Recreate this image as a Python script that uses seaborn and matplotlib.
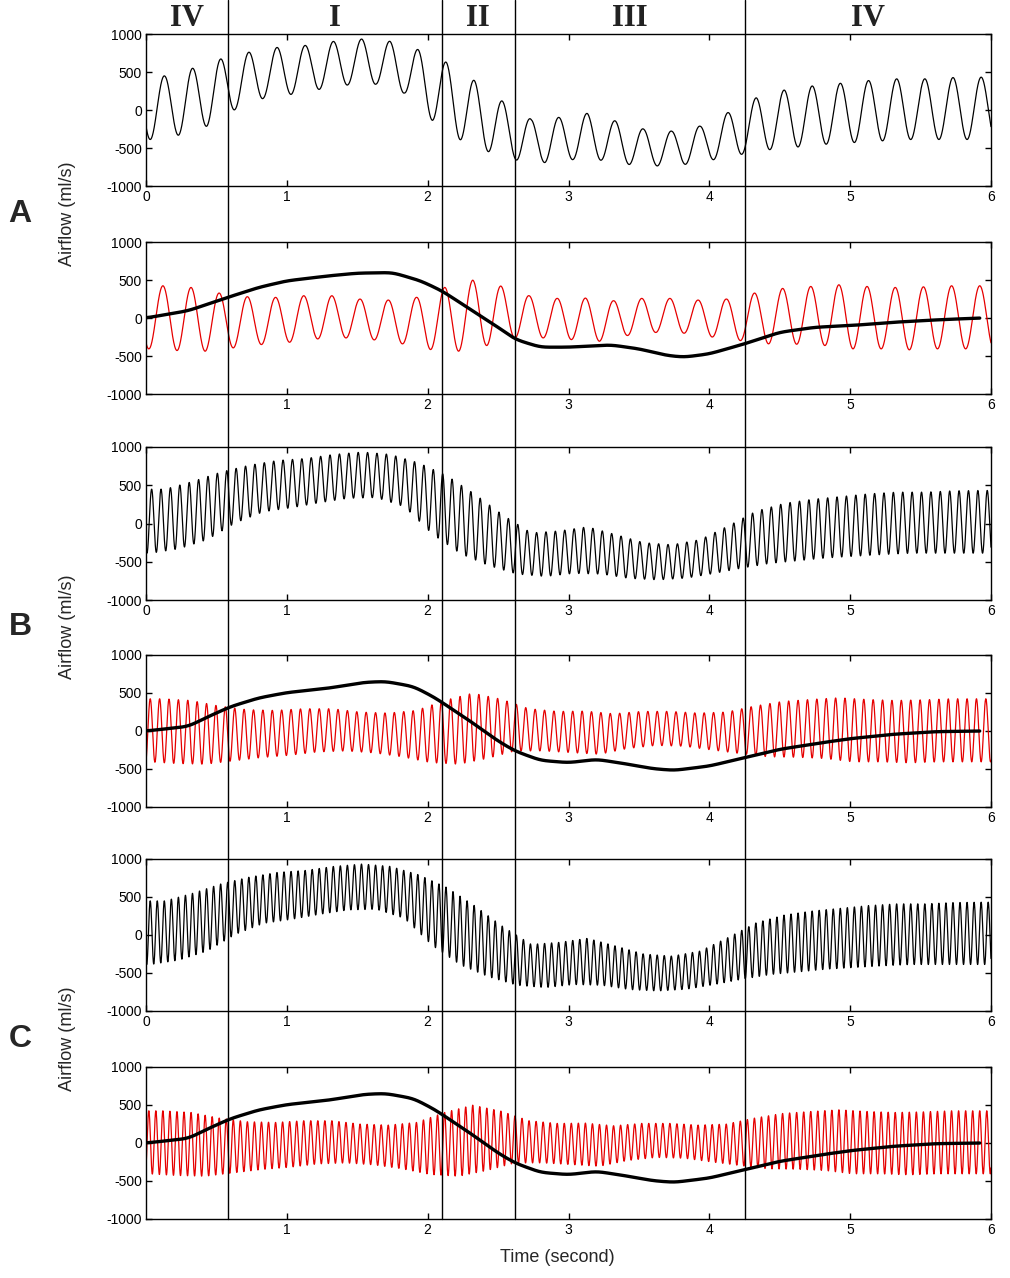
import numpy as np
import pandas as pd
import matplotlib
matplotlib.use('Agg')
import matplotlib.pyplot as plt
import matplotlib.transforms as mtransforms
from matplotlib.lines import Line2D
import seaborn as sns

# breathing frequency (Hz) and time of first peak for pairs A, B, C
pair_names = ['A', 'B', 'C']
pair_freq = [5.0, 15.0, 20.0]
pair_peak = [0.13, 0.04, 0.03]

# phase boundaries (s) and their labels
phase_edges = [0.0, 0.58, 2.1, 2.62, 4.25, 6.0]
phase_labels = ['IV', 'I', 'II', 'III', 'IV']

# measured flow envelope (top panels), upper = peaks, lower = troughs
top_up_t = [0.135, 0.335, 0.535, 0.735, 0.935, 1.135, 1.335, 1.535, 1.735, 1.935,
            2.135, 2.335, 2.535, 2.735, 2.935, 3.135, 3.335, 3.535, 3.735, 3.935,
            4.135, 4.335, 4.535, 4.735, 4.935, 5.135, 5.335, 5.535, 5.735, 5.935]
top_up = [449, 551, 674, 762, 824, 850, 903, 934, 903, 793,
          626, 383, 110, -123, -97, -44, -145, -251, -278, -211,
          -31, 163, 264, 317, 352, 388, 410, 410, 427, 432]
top_lo_t = [0.035, 0.235, 0.435, 0.635, 0.835, 1.035, 1.235, 1.435, 1.635, 1.835,
            2.035, 2.235, 2.435, 2.635, 2.835, 3.035, 3.235, 3.435, 3.635, 3.835,
            4.035, 4.235, 4.435, 4.635, 4.835, 5.035, 5.235, 5.435, 5.635, 5.835]
top_lo = [-388, -330, -211, 9, 154, 207, 273, 330, 339, 220,
          -141, -396, -551, -661, -692, -652, -661, -718, -736, -714,
          -652, -581, -520, -485, -449, -427, -405, -388, -388, -388]

# respiratory component (red) envelope
red_up_t = [0.12, 0.32, 0.52, 0.72, 0.92, 1.12, 1.32, 1.52, 1.72, 1.92,
            2.12, 2.32, 2.52, 2.72, 2.92, 3.12, 3.32, 3.52, 3.72, 3.92,
            4.12, 4.32, 4.52, 4.72, 4.92, 5.12, 5.32, 5.52, 5.72, 5.92]
red_up = [424, 402, 328, 280, 271, 293, 293, 249, 236, 271,
          402, 498, 420, 293, 258, 262, 227, 258, 258, 236,
          249, 328, 389, 415, 437, 415, 402, 410, 424, 424]
red_lo_t = [0.02, 0.22, 0.42, 0.62, 0.82, 1.02, 1.22, 1.42, 1.62, 1.82,
            2.02, 2.22, 2.42, 2.62, 2.82, 3.02, 3.22, 3.42, 3.62, 3.82,
            4.02, 4.22, 4.42, 4.62, 4.82, 5.02, 5.22, 5.42, 5.62, 5.82]
red_lo = [-406, -428, -437, -393, -349, -319, -275, -262, -288, -340,
          -415, -437, -362, -262, -262, -284, -306, -230, -190, -200,
          -250, -297, -340, -345, -362, -406, -406, -419, -406, -406]

# slow (black) component
base_a_t = [0, 0.3, 0.58, 0.8, 1.0, 1.3, 1.5, 1.75, 1.95, 2.1, 2.3, 2.5, 2.62,
            2.8, 3.0, 3.3, 3.5, 3.7, 3.82, 4.0, 4.25, 4.5, 4.75, 5.0, 5.3, 5.6, 5.92]
base_a = [0, 96, 271, 402, 489, 555, 590, 598, 489, 358, 118, -122, -280,
          -384, -384, -354, -406, -493, -515, -472, -340, -188, -122, -100, -57, -26, 0]
base_bc_t = [0, 0.3, 0.45, 0.6, 0.8, 1.0, 1.3, 1.55, 1.7, 1.9, 2.05, 2.3, 2.5, 2.62,
             2.8, 3.0, 3.2, 3.4, 3.6, 3.75, 4.0, 4.25, 4.5, 4.8, 5.0, 5.3, 5.6, 5.92]
base_bc = [0, 60, 196, 320, 435, 505, 565, 640, 652, 585, 440, 132, -132, -263,
           -386, -417, -373, -430, -496, -518, -461, -351, -241, -154, -101, -44, -9, 0]

y_ticks = [-1000, -500, 0, 500, 1000]


def smooth(y, n):
    w = np.hanning(n)
    w = w / w.sum()
    yp = np.pad(y, n, mode='edge')
    return np.convolve(yp, w, mode='same')[n:-n]


def wave(t, freq, tpk, up_t, up, lo_t, lo):
    hi = np.interp(t, up_t, up)
    low = np.interp(t, lo_t, lo)
    mid = (hi + low) / 2
    half = (hi - low) / 2
    return mid + half * np.cos(2 * np.pi * freq * (t - tpk))


t = np.linspace(0, 6, 6001)

sns.set_style('ticks')
plt.rcParams['font.family'] = ['Liberation Sans', 'DejaVu Sans']

fig = plt.figure(figsize=(10.1, 12.78), dpi=100)
W, H = 1010.0, 1278.0
left, right = 146, 991
tops = [34, 242, 447, 655, 859, 1067]
bots = [186, 394, 600, 807, 1011, 1219]

axes = []
for i in range(6):
    ax = fig.add_axes([left / W, 1 - bots[i] / H, (right - left) / W, (bots[i] - tops[i]) / H])
    axes.append(ax)

for k in range(3):
    ax_top = axes[2 * k]
    ax_bot = axes[2 * k + 1]
    f = pair_freq[k]
    tp = pair_peak[k]
    bt, bv = (base_a_t, base_a) if k == 0 else (base_bc_t, base_bc)

    flow = wave(t, f, tp, top_up_t, top_up, top_lo_t, top_lo)
    resp = wave(t, f, tp - 0.01, red_up_t, red_up, red_lo_t, red_lo)
    slow = smooth(np.interp(t, bt, bv), 201)
    keep = t <= bt[-1]

    df_top = pd.DataFrame({'time': t, 'flow': flow})
    df_red = pd.DataFrame({'time': t, 'flow': resp})
    df_slow = pd.DataFrame({'time': t[keep], 'flow': slow[keep]})

    sns.lineplot(data=df_top, x='time', y='flow', ax=ax_top, color='black',
                 linewidth=0.9, estimator=None)
    sns.lineplot(data=df_red, x='time', y='flow', ax=ax_bot, color='#e60000',
                 linewidth=0.9, estimator=None)
    sns.lineplot(data=df_slow, x='time', y='flow', ax=ax_bot, color='black',
                 linewidth=2.4, estimator=None)

for i, ax in enumerate(axes):
    ax.set_xlim(0, 6)
    ax.set_ylim(-1000, 1000)
    ax.set_yticks(y_ticks)
    ax.set_yticklabels([str(v) for v in y_ticks])
    if i % 2 == 0:
        ax.set_xticks([0, 1, 2, 3, 4, 5, 6])
    else:
        ax.set_xticks([1, 2, 3, 4, 5, 6])
    ax.set_xlabel('')
    ax.set_ylabel('')
    ax.tick_params(direction='in', top=True, right=True, length=4, width=1,
                   labelsize=10, pad=3, colors='black')
    for s in ax.spines.values():
        s.set_visible(True)
        s.set_color('black')
        s.set_linewidth(1.0)

# phase boundary lines across the whole figure
trans = mtransforms.blended_transform_factory(axes[0].transData, fig.transFigure)
for xb in phase_edges[1:-1]:
    fig.add_artist(Line2D([xb, xb], [1 - bots[5] / H, 1.0], transform=trans,
                          color='black', linewidth=1.0, zorder=10))

for lab, a, b in zip(phase_labels, phase_edges[:-1], phase_edges[1:]):
    fig.text((a + b) / 2, 1 - 18 / H, lab, transform=trans, ha='center', va='center',
             fontsize=22, fontweight='bold', family=['Liberation Serif', 'DejaVu Serif'],
             color='#222222')

label_y = [214, 627, 1039]
for name, yy in zip(pair_names, label_y):
    fig.text(20 / W, 1 - yy / H, name, ha='center', va='center', fontsize=23,
             fontweight='bold')
    fig.text(68 / W, 1 - yy / H, 'Airflow (ml/s)', ha='center', va='center',
             rotation=90, fontsize=13)

fig.text(557 / W, 1 - 1257 / H, 'Time (second)', ha='center', va='center', fontsize=13)

fig.savefig('out.png', dpi=100)
